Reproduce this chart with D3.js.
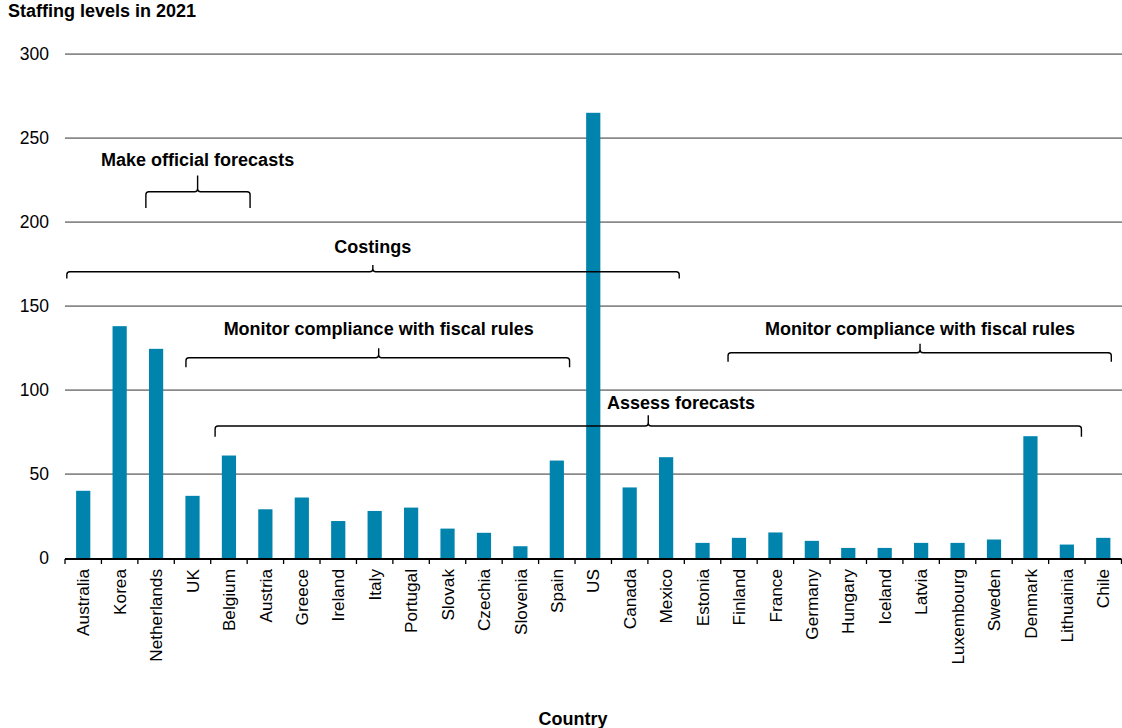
<!DOCTYPE html>
<html>
<head>
<meta charset="utf-8">
<script src="https://cdn.jsdelivr.net/npm/d3@7"></script>
<style>
  html, body { margin: 0; padding: 0; background: #fff; }
  svg { display: block; }
  text { font-family: "Liberation Sans", Arial, sans-serif; fill: #000; }
</style>
</head>
<body>
<svg id="chart" width="1122" height="728"></svg>
<script>
// ---- Data ----
const categories = ["Australia","Korea","Netherlands","UK","Belgium","Austria","Greece","Ireland","Italy","Portugal","Slovak","Czechia","Slovenia","Spain","US","Canada","Mexico","Estonia","Finland","France","Germany","Hungary","Iceland","Latvia","Luxembourg","Sweden","Denmark","Lithuainia","Chile"];
const staffing = [40,138,124.5,37,61,29,36,22,28,30,17.5,15,7,58,265,42,60,9,12,15.2,10.2,6,6,9,9,11,72.5,8,12];
const yTicks = [0,50,100,150,200,250,300];
const chartTitle = "Staffing levels in 2021";
const xTitle = "Country";

// Bracket annotations (positions in category-index units and value units)
const bracketLabels = ["Make official forecasts","Costings","Monitor compliance with fiscal rules","Monitor compliance with fiscal rules","Assess forecasts"];
const bracketFrom   = [1.72, -0.45, 2.82, 17.70, 3.62];
const bracketTo     = [4.58, 16.36, 13.35, 28.22, 27.40];
const bracketMid    = [3.14, 7.95, 8.11, 22.97, 15.51];
const bracketLevel  = [218.0, 170.4, 119.2, 122.2, 78.6];
const bracketDepth  = [9.7, 4.0, 5.7, 5.4, 6.4];
const labelAt       = [3.14, 7.95, 8.11, 22.97, 16.41];
const labelLevel    = [233.3, 181.7, 132.7, 133.0, 88.5];

// ---- Layout ----
const svg = d3.select("#chart");
const mLeft = 65, mRight = 1121.5, mTop = 54, mBottom = 558;
const barColor = "#0084ad";

const x = d3.scaleBand().domain(categories).range([mLeft, mRight]).paddingInner(0.61).paddingOuter(0.305);
const y = d3.scaleLinear().domain([0, 300]).range([mBottom, mTop]);
const idx = d3.scaleLinear().domain([-0.5, categories.length - 0.5]).range([mLeft, mRight]);

// Title
svg.append("text").attr("x", 8).attr("y", 17)
  .attr("font-size", 18).attr("font-weight", "bold").text(chartTitle);

// Gridlines
svg.append("g").selectAll("line").data(yTicks.filter(d => d > 0)).join("line")
  .attr("x1", mLeft).attr("x2", 1122)
  .attr("y1", d => y(d)).attr("y2", d => y(d))
  .attr("stroke", "#8a8a8a").attr("stroke-width", 1.75);

// Y axis labels
const yAxis = svg.append("g").attr("transform", `translate(${mLeft},0)`)
  .call(d3.axisLeft(y).tickValues(yTicks).tickSize(0).tickPadding(16));
yAxis.select(".domain").remove();
yAxis.selectAll("text").attr("font-size", 17.5).attr("font-family", "Liberation Sans, Arial, sans-serif").attr("fill", "#000");

// Bars
svg.append("g").selectAll("rect").data(categories).join("rect")
  .attr("x", d => x(d)).attr("width", x.bandwidth())
  .attr("y", (d, i) => y(staffing[i]))
  .attr("height", (d, i) => y(0) - y(staffing[i]))
  .attr("fill", barColor);

// X axis line & boundary ticks
const xg = svg.append("g");
const axisY = y(0) + 1;
xg.append("line").attr("x1", mLeft).attr("x2", mRight).attr("y1", axisY).attr("y2", axisY)
  .attr("stroke", "#000").attr("stroke-width", 1.8);
const bounds = d3.range(categories.length + 1).map(i => idx(i - 0.5));
xg.selectAll("line.tk").data(bounds).join("line").attr("class", "tk")
  .attr("x1", d => d).attr("x2", d => d).attr("y1", axisY).attr("y2", axisY + 5)
  .attr("stroke", "#000").attr("stroke-width", 1.3);

// X labels
const xa = svg.append("g").attr("transform", `translate(0,${y(0)})`)
  .call(d3.axisBottom(x).tickSize(0).tickPadding(0));
xa.select(".domain").remove();
xa.selectAll("text")
  .attr("font-size", 17.2).attr("font-family", "Liberation Sans, Arial, sans-serif").attr("fill", "#000")
  .attr("text-anchor", "end")
  .attr("transform", "translate(0,11) rotate(-90)")
  .attr("x", 0).attr("y", 0).attr("dy", "0.36em");

// X title
svg.append("text").attr("x", 573).attr("y", 725).attr("text-anchor", "middle")
  .attr("font-size", 18).attr("font-weight", "bold").text(xTitle);

// Brackets
function bracePath(x1, x2, xm, yh, d) {
  const r = 3;
  return `M${x1},${yh + d} L${x1},${yh + r} Q${x1},${yh} ${x1 + r},${yh} L${xm - r},${yh} Q${xm},${yh} ${xm},${yh - r} L${xm},${yh - d}` +
         ` M${xm},${yh - r} Q${xm},${yh} ${xm + r},${yh} L${x2 - r},${yh} Q${x2},${yh} ${x2},${yh + r} L${x2},${yh + d}`;
}
const ann = svg.append("g");
bracketLabels.forEach((lab, i) => {
  const yh = y(bracketLevel[i]);
  const d = y(0) - y(bracketDepth[i]);
  ann.append("path")
    .attr("d", bracePath(idx(bracketFrom[i]), idx(bracketTo[i]), idx(bracketMid[i]), yh, d))
    .attr("fill", "none").attr("stroke", "#000").attr("stroke-width", 1.4);
  ann.append("text").attr("x", idx(labelAt[i])).attr("y", y(labelLevel[i]))
    .attr("text-anchor", "middle").attr("font-size", 18).attr("font-weight", "bold")
    .text(lab);
});
</script>
</body>
</html>
